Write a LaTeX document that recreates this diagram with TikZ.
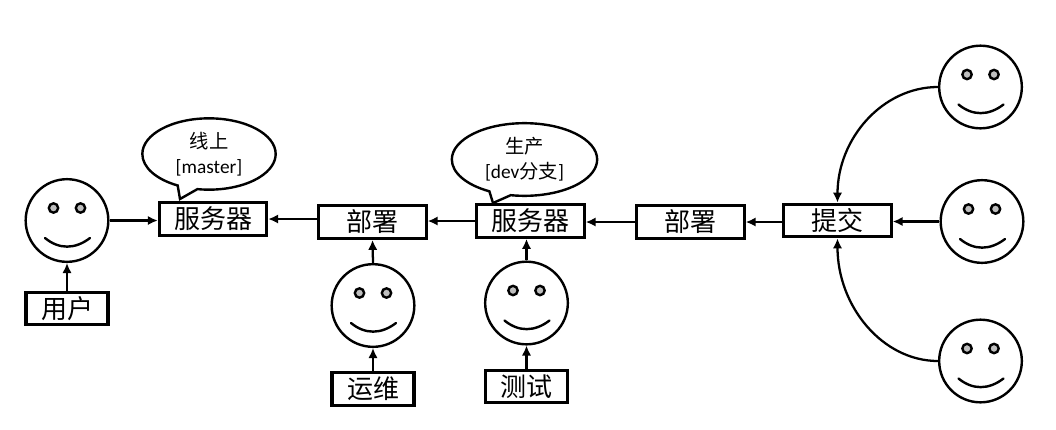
\documentclass[tikz,border=0pt]{standalone}
\usepackage{fontspec}
\setmainfont{Carlito}
\newfontfamily\cjk{Noto Sans CJK SC}
\usetikzlibrary{arrows.meta,shapes.callouts,shapes.geometric}
\tikzset{
  every picture/.style={x=0.75pt,y=-0.75pt},
  lblbox/.style={draw=black,line width=2.3pt,fill=white,minimum width=80.5pt,minimum height=24.5pt,inner sep=0pt,font=\cjk\fontsize{19.5}{22}\selectfont},
  shortbox/.style={lblbox,minimum width=61.5pt},
  face/.style={circle,draw=black,line width=1.8pt,fill=white,minimum size=62pt,inner sep=0pt},
  conn/.style={draw=black,line width=1.7pt,-{Latex[length=7.5pt,width=7pt]}},
  bubble/.style={ellipse callout,draw=black,line width=1.8pt,fill=white,inner sep=0pt,align=center,font=\fontsize{14.5}{19}\selectfont},
}
\newcommand{\smileyface}[3]{%
  \node[face] (#1) at (#2,#3) {};
  \begin{scope}[shift={(#2,#3)}]
    \draw[line width=1.8pt,fill=black!25] (-13.5,-12.5) circle[radius=3.5pt];
    \draw[line width=1.8pt,fill=black!25] (13.5,-12.5) circle[radius=3.5pt];
    \draw[line width=1.8pt,line cap=round] (-22,17.5) .. controls (-8,29) and (8,29) .. (23,17.5);
  \end{scope}
}
\begin{document}
\begin{tikzpicture}
\useasboundingbox (0,0) rectangle (1056,429);
\fill[white] (0,0) rectangle (1056,429);
% boxes
\node[lblbox] (srvA) at (213,219) {服务器};
\node[lblbox] (depA) at (372.5,222) {部署};
\node[lblbox] (srvB) at (530.5,221) {服务器};
\node[lblbox] (depB) at (690.5,222) {部署};
\node[lblbox] (tj) at (837.5,220.5) {提交};
\node[shortbox] (yh) at (67,308.5) {用户};
\node[shortbox] (yw) at (373,389) {运维};
\node[shortbox] (cs) at (526.5,386.5) {测试};
% faces
\smileyface{fU}{67}{220.5}
\smileyface{fY}{373}{305.5}
\smileyface{fC}{526.5}{303}
\smileyface{fT}{980.5}{87}
\smileyface{fM}{982}{221.5}
\smileyface{fB}{980.5}{361}
% bubbles
\coordinate (tipA) at (180,199);
\coordinate (tipB) at (493,203);
\node[bubble,minimum width=100pt,minimum height=53.5pt,callout absolute pointer={(tipA)},callout pointer arc=18] (bA) at (209,154) {{\cjk 线上}\\{}[master]};
\node[bubble,minimum width=109pt,minimum height=54.5pt,callout absolute pointer={(tipB)},callout pointer arc=18] (bB) at (524.5,159.5) {{\cjk 生产}\\{}[dev{\cjk 分支}]};
% connectors
\draw[conn] (yh.north) -- (fU.south);
\draw[conn] (fU.east) -- (fU.east -| srvA.west);
\draw[conn] (depA.west |- srvA) -- (srvA.east);
\draw[conn] (srvB.west) -- (srvB.west -| depA.east);
\draw[conn] (depB.west) -- (depB.west -| srvB.east);
\draw[conn] (tj.west |- depB) -- (depB.east);
\draw[conn] (fY.north) -- (depA.south);
\draw[conn] (yw.north) -- (fY.south);
\draw[conn] (fC.north) -- (fC.north |- srvB.south);
\draw[conn] (cs.north) -- (fC.south);
\draw[conn] (fM.west) -- (fM.west -| tj.east);
\draw[conn] (fT.west) .. controls +(-55.5,0) and +(0,-64) .. (tj.north);
\draw[conn] (fB.west) .. controls +(-55.5,0) and +(0,68) .. (tj.south);
\end{tikzpicture}
\end{document}
